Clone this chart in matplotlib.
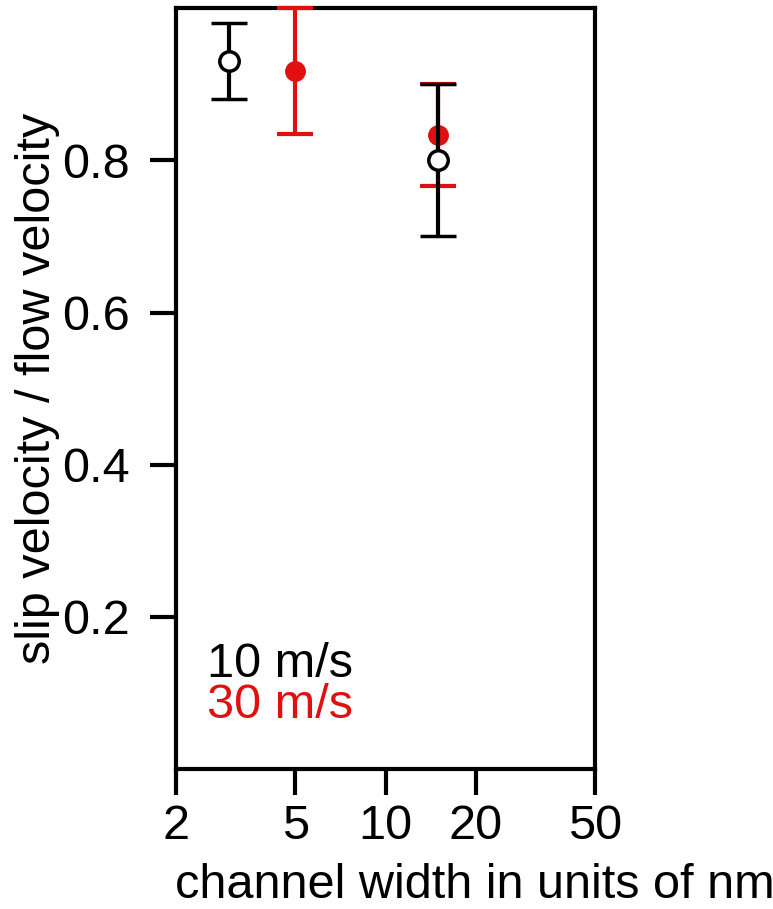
import matplotlib
matplotlib.use("Agg")
import matplotlib.pyplot as plt
from matplotlib.ticker import FixedLocator, FixedFormatter, NullLocator

plt.rcParams['font.family'] = ['Liberation Sans', 'DejaVu Sans']

# data
width_10 = [3, 15]
slip_10 = [0.93, 0.80]
err_10 = [0.05, 0.10]

width_30 = [5, 15]
slip_30 = [0.917, 0.833]
err_30 = [0.083, 0.067]

x_ticks = [2, 5, 10, 20, 50]
y_ticks = [0.2, 0.4, 0.6, 0.8]

fig = plt.figure(figsize=(7.73, 9.09), dpi=100)
ax = fig.add_axes([0.2277, 0.154, 0.5423, 0.837])

red = '#e01010'
ax.errorbar(width_30, slip_30, yerr=err_30, fmt='o', color=red, ecolor=red,
            markersize=14, elinewidth=3, capsize=13, capthick=3, zorder=3,
            clip_on=False)
ax.errorbar(width_10, slip_10, yerr=err_10, fmt='o', color='black',
            mfc='white', mec='black', mew=2.5, markersize=14, elinewidth=3,
            capsize=13, capthick=3, zorder=4, clip_on=False)

ax.set_xscale('log')
ax.set_xlim(2, 50)
ax.set_ylim(0, 1)
ax.xaxis.set_major_locator(FixedLocator(x_ticks))
ax.xaxis.set_major_formatter(FixedFormatter([str(t) for t in x_ticks]))
ax.xaxis.set_minor_locator(NullLocator())
ax.set_yticks(y_ticks)
ax.set_yticklabels([str(t) for t in y_ticks])

for s in ax.spines.values():
    s.set_linewidth(3)
ax.tick_params(axis='both', length=19, width=3, labelsize=35, pad=14)
ax.tick_params(axis='x', pad=6)

ax.set_ylabel('slip velocity / flow velocity', fontsize=35, labelpad=2)
fig.text(0.226, 1 - 885 / 909, 'channel width in units of nm', fontsize=35,
         ha='left', va='center')

ax.text(0.075, 0.138, '10 m/s', transform=ax.transAxes, fontsize=35,
        color='black', va='center')
ax.text(0.075, 0.083, '30 m/s', transform=ax.transAxes, fontsize=35,
        color=red, va='center')

fig.savefig('out.png', dpi=100)
